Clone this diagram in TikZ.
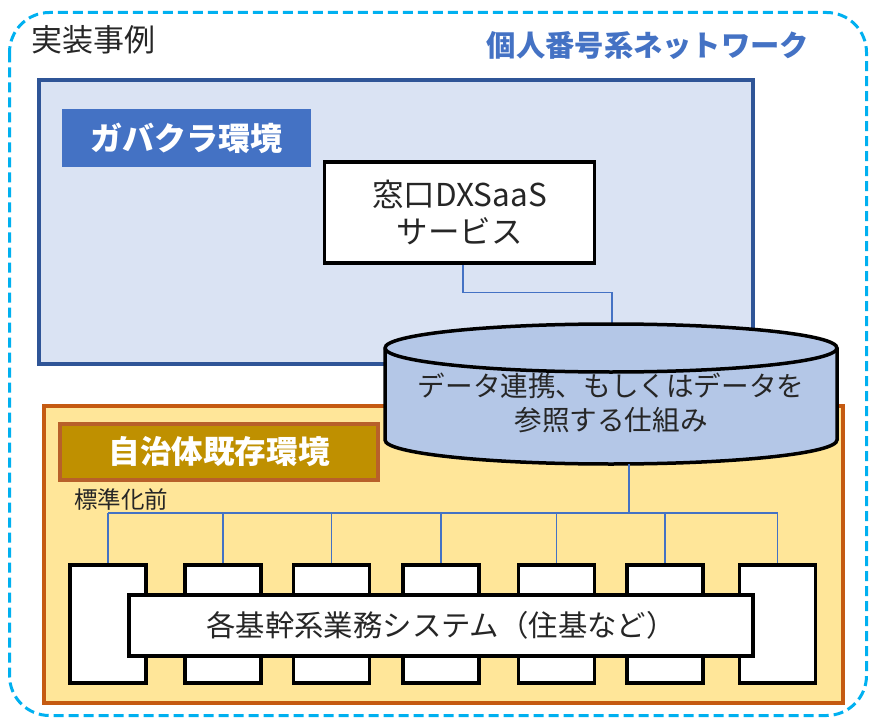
\documentclass[tikz,border=0pt]{standalone}
\usepackage{fontspec}
\setmainfont{Noto Sans CJK JP}
\usetikzlibrary{calc}
\definecolor{cyanline}{HTML}{00B0F0}
\definecolor{envblue}{HTML}{DAE3F3}
\definecolor{envblueline}{HTML}{2F5597}
\definecolor{labelblue}{HTML}{4472C4}
\definecolor{cylfill}{HTML}{B4C7E7}
\definecolor{envorange}{HTML}{FFE699}
\definecolor{orangeline}{HTML}{C55A11}
\definecolor{labelgold}{HTML}{BF9000}
\definecolor{labelgoldline}{HTML}{B8602A}
\definecolor{txt}{HTML}{262626}
\tikzset{
  env/.style={draw, line width=3.5pt, inner sep=0pt},
  sysbox/.style={draw=black, fill=white, line width=3.5pt, inner sep=0pt},
  conn/.style={draw=labelblue, line width=1.4pt},
  lbl/.style={inner sep=0pt, text=txt},
}
\begin{document}
\begin{tikzpicture}[x=1pt,y=-1pt]
\useasboundingbox (0,0) rectangle (869,719);
% outer network
\draw[cyanline, line width=3pt, dash pattern=on 10pt off 5pt, rounded corners=40pt] (9.5,12.5) rectangle (866.5,715.5);
\node[lbl, anchor=west, font=\fontsize{31}{32}\selectfont] (title) at (31,40) {実装事例};
\node[lbl, text=labelblue, font=\fontsize{29.3}{30}\selectfont\bfseries] (net) at (648,46) {個人番号系ネットワーク};
% gov cloud
\node[env, draw=envblueline, fill=envblue, minimum width=714pt, minimum height=284pt] (gc) at (396,222) {};
\node[fill=labelblue, text=white, minimum width=249pt, minimum height=58pt, inner sep=0pt, font=\fontsize{32}{33}\selectfont\bfseries] (gclbl) at (186.5,138) {ガバクラ環境};
\node[sysbox, minimum width=270pt, minimum height=101pt, align=center, text=txt, font=\fontsize{31.5}{37}\selectfont] (saas) at (459.5,212.5) {窓口DXSaaS\\サービス};
% local env
\node[env, draw=orangeline, fill=envorange, minimum width=799pt, minimum height=297pt] (le) at (443.5,554.5) {};
\node[draw=labelgoldline, fill=labelgold, line width=3.5pt, text=white, minimum width=318pt, minimum height=56pt, inner sep=0pt, font=\fontsize{31.6}{33}\selectfont\bfseries] (lelbl) at (219,452) {自治体既存環境};
\node[lbl, anchor=west, font=\fontsize{23.5}{24}\selectfont] (pre) at (74,500) {標準化前};
% connector saas -> cylinder
\coordinate (cyltop) at (612,324);
\coordinate (cylbot) at (629,464);
\draw[conn] ($(saas.south)+(3.5,0)$) -- ++(0,28) -| (cyltop);
% cylinder
\filldraw[fill=cylfill, draw=black, line width=3.5pt]
  (385,348) -- (385,440) arc[start angle=180, end angle=360, x radius=226pt, y radius=24pt]
  -- (837,348) arc[start angle=0, end angle=180, x radius=226pt, y radius=24pt] -- cycle;
\draw[black, line width=3.5pt] (385,348) arc[start angle=180, end angle=360, x radius=226pt, y radius=24pt];
\node[lbl, align=center, font=\fontsize{27.6}{34}\selectfont] (cyl) at (611,403) {データ連携、もしくはデータを\\参照する仕組み};
% systems
\coordinate (bus) at (629,513);
\foreach \i/\x in {1/108,2/223,3/331.5,4/441,5/556.5,6/665,7/777.5}{
  \node[sysbox, minimum width=76pt, minimum height=118pt] (b\i) at (\x,624) {};
}
\draw[conn] (cylbot) -- (bus);
\draw[conn] (b1.north |- bus) -- (b7.north |- bus);
\foreach \i in {1,...,7}{
  \draw[conn] (b\i.north |- bus) -- (b\i.north);
}
\node[sysbox, minimum width=624pt, minimum height=61pt, text=txt, font=\fontsize{29.4}{30}\selectfont] (sys) at (441,625.5) {各基幹系業務システム（住基など）};
\end{tikzpicture}
\end{document}
